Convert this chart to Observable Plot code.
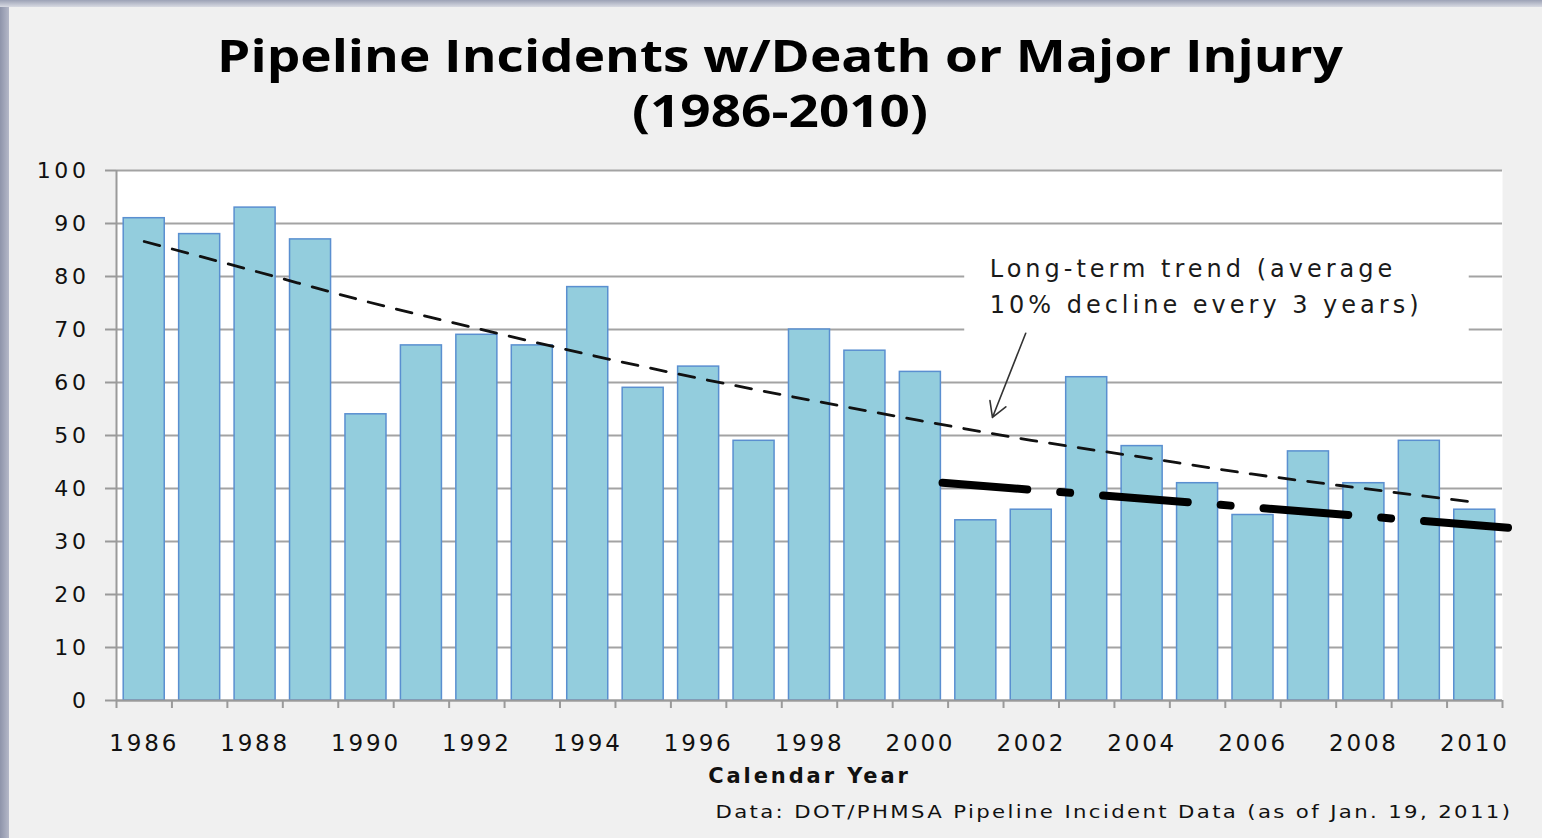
<!DOCTYPE html>
<html>
<head>
<meta charset="utf-8">
<script src="https://cdn.jsdelivr.net/npm/d3@7"></script>
<script src="https://cdn.jsdelivr.net/npm/@observablehq/plot@0.6"></script>
<style>
  html, body { margin: 0; padding: 0; }
  body { width: 1542px; height: 838px; overflow: hidden; background: #f0f0f0; position: relative; }
  #leftbar { position: absolute; left: 0; top: 0; width: 9px; height: 838px; background: linear-gradient(to right, #8e94aa, #b4b8c8); }
  #topbar { position: absolute; left: 0; top: 0; width: 1542px; height: 7px; background: linear-gradient(to bottom, #9ca2b6, #d8dae2); }
  #title { height: 140px; box-sizing: border-box; padding-top: 27px; text-align: center; font-family: "Open Sans", sans-serif; font-weight: 700; font-size: 45px; line-height: 55px; color: #000; }
  #title div { transform: translateX(9px) scaleX(1.18); transform-origin: 771px 0; }
  #chart svg { display: block; }
  #caption { margin-top: 5px; height: 22px; position: relative; font-family: "DejaVu Sans", sans-serif; font-size: 18px; line-height: 22px; letter-spacing: 2px; color: #111; }
  #caption span { position: absolute; right: 30px; transform: scaleX(1.18); transform-origin: right center; white-space: nowrap; }
  g[aria-label="y-axis tick label"] text { letter-spacing: 3.6px; }
  g[aria-label="x-axis tick label"] text { letter-spacing: 2.8px; }
  g[aria-label="y-axis tick"] path, g[aria-label="x-axis tick"] path { stroke: #9a9a9a; stroke-width: 2; }
  g[aria-label="x-axis label"] text { letter-spacing: 2.9px; }
  g[aria-label="text"] text { letter-spacing: 4px; }
</style>
</head>
<body>
<div id="leftbar"></div>
<div id="topbar"></div>
<div id="title"><div>Pipeline Incidents w/Death or Major Injury</div><div>(1986-2010)</div></div>
<div id="chart"></div>
<div id="caption"><span>Data: DOT/PHMSA Pipeline Incident Data (as of Jan. 19, 2011)</span></div>
<script>
// ---- data ----
const years = [1986,1987,1988,1989,1990,1991,1992,1993,1994,1995,1996,1997,1998,1999,2000,2001,2002,2003,2004,2005,2006,2007,2008,2009,2010];
const incidents = [91,88,93,87,54,67,69,67,78,59,63,49,70,66,62,34,36,61,48,41,35,47,41,49,36];
const yearLabels = [1986,1988,1990,1992,1994,1996,1998,2000,2002,2004,2006,2008,2010];
const yTicks = [0,10,20,30,40,50,60,70,80,90,100];
// long-term trend (thin dashed curve)
const trendYears = [1986,1988,1990,1992,1994,1996,1998,2000,2002,2004,2006,2008,2010];
const trendValues = [86.6,81,75.3,70.2,65.3,60.8,56.7,52.8,49.1,45.9,42.7,40,37.4];
// recent trend (thick dash-dot line)
const recentYears = [2000.4,2010.6];
const recentValues = [41.1,32.6];
// annotation
const noteText = "Long-term trend (average\n10% decline every 3 years)";
const noteAt = [2001.25, 84.7];
const noteBox = [2000.8, 2009.9, 67.8, 85.5];
const arrowFrom = [2001.9, 69.3];
const arrowTo = [2001.3, 53.4];

const bars = years.map((y, i) => ({year: y, value: incidents[i]}));
const trend = trendYears.map((y, i) => ({year: y, value: trendValues[i]}));
const recent = recentYears.map((y, i) => ({year: y, value: recentValues[i]}));
const boundaries = years.map(y => y - 0.5).concat([years[years.length - 1] + 0.5]);
const half = 0.37;

const plot = Plot.plot({
  width: 1542,
  height: 656,
  marginLeft: 116,
  marginRight: 40,
  marginTop: 30,
  marginBottom: 96,
  style: {background: "transparent", fontFamily: "'DejaVu Sans', sans-serif", color: "#111"},
  x: {domain: [boundaries[0], boundaries[boundaries.length - 1]], axis: null},
  y: {domain: [0, 100], axis: null},
  marks: [
    Plot.frame({fill: "white", stroke: null}),
    Plot.gridY(yTicks, {stroke: "#a3a3a3", strokeWidth: 2, strokeOpacity: 1}),
    Plot.rect([noteBox], {x1: d => d[0], x2: d => d[1], y1: d => d[2], y2: d => d[3], fill: "white"}),
    Plot.ruleX([boundaries[0]], {stroke: "#9a9a9a", strokeWidth: 2}),
    Plot.rectY(bars, {x1: d => d.year - half, x2: d => d.year + half, y: "value", fill: "#93cddd", stroke: "#5a8fd0", strokeWidth: 1.5}),
    Plot.ruleY([0], {stroke: "#9a9a9a", strokeWidth: 2}),
    Plot.line(trend, {x: "year", y: "value", curve: "monotone-x", stroke: "#111", strokeWidth: 2.8, strokeDasharray: "16,13"}),
    Plot.line(recent, {x: "year", y: "value", stroke: "#000", strokeWidth: 8, strokeDasharray: "85,33,10,33"}),
    Plot.arrow([0], {x1: () => arrowFrom[0], y1: () => arrowFrom[1], x2: () => arrowTo[0], y2: () => arrowTo[1], stroke: "#333", strokeWidth: 1.6, headLength: 16}),
    Plot.text([noteText], {x: () => noteAt[0], y: () => noteAt[1], text: d => d, textAnchor: "start", lineAnchor: "top", lineHeight: 1.5, fontSize: 24, fill: "#1a1a1a"}),
    Plot.axisY({ticks: yTicks, tickSize: 11, tickPadding: 16, fontSize: 22, label: null}),
    Plot.axisX({ticks: boundaries, tickSize: 8, tickFormat: () => "", label: null}),
    Plot.axisX({ticks: yearLabels, tickSize: 0, tickPadding: 34, fontSize: 23, tickFormat: d => String(d), label: "Calendar Year", labelAnchor: "center", labelArrow: "none", labelOffset: 82, fontWeight: "normal"})
  ]
});
document.getElementById("chart").appendChild(plot);
d3.select(plot).selectAll('g[aria-label="x-axis label"] text').attr("font-weight", "bold").attr("font-size", 21);
</script>
</body>
</html>
